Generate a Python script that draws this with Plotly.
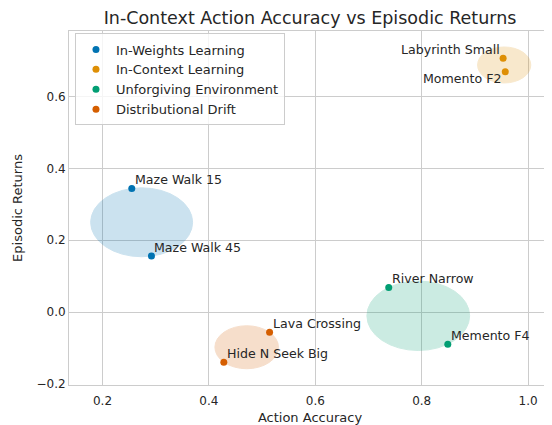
import numpy as np
import plotly.graph_objects as go

# ---- data ----
groups = ["In-Weights Learning", "In-Context Learning", "Unforgiving Environment", "Distributional Drift"]
group_colors = ["#0173b2", "#de8f05", "#029e73", "#d55e00"]

env_names = ["Maze Walk 15", "Maze Walk 45", "Labyrinth Small", "Momento F2",
             "River Narrow", "Memento F4", "Lava Crossing", "Hide N Seek Big"]
env_group = [0, 0, 1, 1, 2, 2, 3, 3]
action_accuracy = [0.255, 0.292, 0.953, 0.957, 0.738, 0.849, 0.514, 0.428]
episodic_returns = [0.344, 0.156, 0.706, 0.669, 0.069, -0.089, -0.056, -0.139]

x_ticks = [0.2, 0.4, 0.6, 0.8, 1.0]
y_ticks = [-0.2, 0.0, 0.2, 0.4, 0.6]

# label placement style (anchor, x shift px, y shift px)
label_style = {
    "Labyrinth Small": ("right", -1, 9),
    "Momento F2": ("right", -2, -7),
}
default_label_style = ("left", 1, 9)

FONT = "DejaVu Sans"
TXT = "#262626"
BODY = 8  # default page body margin offsets the figure
W, H = 552 - BODY, 425 - BODY

fig = go.Figure()
shapes = []
for gi, (g, c) in enumerate(zip(groups, group_colors)):
    idx = [i for i, k in enumerate(env_group) if k == gi]
    xs = np.array([action_accuracy[i] for i in idx])
    ys = np.array([episodic_returns[i] for i in idx])
    cx, cy = xs.mean(), ys.mean()
    r = max(np.hypot(xs[0] - xs[-1], ys[0] - ys[-1]) / 2, 0.05)
    shapes.append(dict(type="circle", xref="x", yref="y",
                       x0=cx - r, x1=cx + r, y0=cy - r, y1=cy + r,
                       fillcolor=c, opacity=0.2, line=dict(color=c, width=1),
                       layer="between"))
    fig.add_trace(go.Scatter(x=xs, y=ys, mode="markers", name=g,
                             marker=dict(color=c, size=7, line=dict(width=0))))

annotations = []
for n, xv, yv in zip(env_names, action_accuracy, episodic_returns):
    anchor, dx, dy = label_style.get(n, default_label_style)
    annotations.append(dict(x=xv, y=yv, xref="x", yref="y", text=n, showarrow=False,
                            xanchor=anchor, yanchor="middle", xshift=dx, yshift=dy,
                            font=dict(family=FONT, size=12.6, color=TXT)))

fig.update_layout(
    width=W, height=H,
    margin=dict(l=69 - BODY, r=1, t=31 - BODY, b=40, autoexpand=False),
    paper_bgcolor="white", plot_bgcolor="white",
    font=dict(family=FONT, color=TXT, size=12),
    title=dict(text="In-Context Action Accuracy vs Episodic Returns",
               x=((69 + 551) / 2 - BODY) / W, xanchor="center", y=1 - (18 - BODY) / H, yanchor="middle",
               font=dict(family=FONT, size=17.5, color=TXT)),
    shapes=shapes, annotations=annotations,
    showlegend=True,
    legend=dict(x=0.0124, y=0.993, xanchor="left", yanchor="top",
                bgcolor="rgba(255,255,255,0.8)", bordercolor="#cccccc", borderwidth=1,
                font=dict(family=FONT, size=13, color=TXT)),
)
fig.update_xaxes(range=[0.137, 1.043], tickvals=x_ticks, ticktext=[f"{v:.1f}" for v in x_ticks],
                 showgrid=True, gridcolor="#cccccc", gridwidth=1, zeroline=False, automargin=False,
                 showline=True, linecolor="#cccccc", linewidth=1, mirror=True, ticks="",
                 ticklabelstandoff=5,
                 tickfont=dict(size=12, color=TXT),
                 title=dict(text="Action Accuracy", font=dict(size=13, color=TXT), standoff=6))
fig.update_yaxes(range=[-0.2025, 0.782], tickvals=y_ticks, automargin=False,
                 ticktext=[f"{v:.1f}".replace("-", "\u2212") for v in y_ticks],
                 showgrid=True, gridcolor="#cccccc", gridwidth=1, zeroline=False,
                 showline=True, linecolor="#cccccc", linewidth=1, mirror=True, ticks="",
                 tickfont=dict(size=12, color=TXT),
                 title=dict(text="Episodic Returns", font=dict(size=13, color=TXT), standoff=10))

fig.write_html("out.html")
